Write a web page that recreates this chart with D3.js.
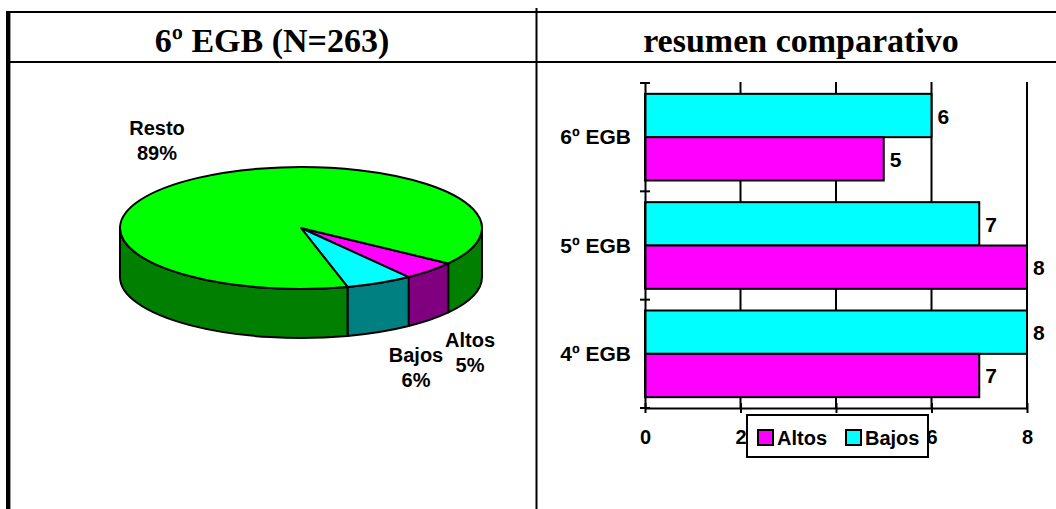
<!DOCTYPE html>
<html>
<head>
<meta charset="utf-8">
<script src="https://cdn.jsdelivr.net/npm/d3@7"></script>
<style>
  html, body { margin: 0; padding: 0; background: #fff; }
  svg { display: block; }
  .ttl { font-family: "Liberation Serif", "Times New Roman", serif; font-weight: bold; font-size: 34px; }
  .lbl { font-family: "Liberation Sans", Arial, sans-serif; font-weight: bold; font-size: 20px; }
  .cat { font-family: "Liberation Sans", Arial, sans-serif; font-weight: bold; font-size: 21px; }
  .tk { font-family: "Liberation Sans", Arial, sans-serif; font-weight: bold; font-size: 20px; }
</style>
</head>
<body>
<script>
// Pie: 6º EGB breakdown
const pieLabels = ["Altos", "Bajos", "Resto"];
const pieValues = [5, 6, 89];
const pieTopColors = ["#ff00ff", "#00ffff", "#00ff00"];
const pieSideColors = ["#800080", "#008080", "#007f00"];

// Bars: comparison by grade
const grades = ["6º EGB", "5º EGB", "4º EGB"];
const altos = [5, 8, 7];
const bajos = [6, 7, 8];
const seriesNames = ["Bajos", "Altos"];
const seriesColors = { Altos: "#ff00ff", Bajos: "#00ffff" };
const xTicks = [0, 2, 4, 6, 8];

const W = 1056, H = 509;
const svg = d3.select("body").append("svg").attr("width", W).attr("height", H);

// ---- table frame ----
const frame = svg.append("g").attr("stroke", "#000").attr("fill", "none");
frame.append("line").attr("x1", 6).attr("x2", W).attr("y1", 12).attr("y2", 12).attr("stroke-width", 2.2);
frame.append("line").attr("x1", 6).attr("x2", W).attr("y1", 62).attr("y2", 62).attr("stroke-width", 2.2);
frame.append("line").attr("x1", 8.2).attr("x2", 8.2).attr("y1", 11).attr("y2", H).attr("stroke-width", 4.4);
frame.append("line").attr("x1", 536.5).attr("x2", 536.5).attr("y1", 8).attr("y2", H).attr("stroke-width", 2);

svg.append("text").attr("class", "ttl").attr("x", 272).attr("y", 52).attr("text-anchor", "middle").text("6º EGB (N=263)");
svg.append("text").attr("class", "ttl").attr("x", 801).attr("y", 52).attr("text-anchor", "middle").text("resumen comparativo");

// ---- 3D pie ----
const cx = 301, cy = 228, rx = 181, ry = 61, depth = 49;
const startDeg = 125.5;
const pie = d3.pie().sort(null).value(d => d)
  .startAngle(startDeg * Math.PI / 180)
  .endAngle(startDeg * Math.PI / 180 + 2 * Math.PI);
const arcs = pie(pieValues);

function pt(a, dy) {
  return [cx + rx * Math.cos(a), cy + ry * Math.sin(a) + (dy || 0)];
}
function topPath(a0, a1) {
  const p0 = pt(a0), p1 = pt(a1);
  const large = (a1 - a0) > Math.PI ? 1 : 0;
  return `M${cx},${cy}L${p0[0]},${p0[1]}A${rx},${ry} 0 ${large} 1 ${p1[0]},${p1[1]}Z`;
}
function sidePath(s, e) {
  const p0 = pt(s), p1 = pt(e), q1 = pt(e, depth), q0 = pt(s, depth);
  return `M${p0[0]},${p0[1]}A${rx},${ry} 0 0 1 ${p1[0]},${p1[1]}L${q1[0]},${q1[1]}A${rx},${ry} 0 0 0 ${q0[0]},${q0[1]}Z`;
}

const pieG = svg.append("g").attr("stroke", "#000").attr("stroke-width", 2).attr("stroke-linejoin", "round");
arcs.forEach((d, i) => {
  const t0 = d.startAngle - Math.PI / 2, t1 = d.endAngle - Math.PI / 2;
  // front half of the rim lies at screen angles [0, π] (mod 2π)
  for (let k = 0; k <= 1; k++) {
    const s = Math.max(t0, k * 2 * Math.PI), e = Math.min(t1, k * 2 * Math.PI + Math.PI);
    if (e > s) pieG.append("path").attr("d", sidePath(s, e)).attr("fill", pieSideColors[i]);
  }
});
arcs.forEach((d, i) => {
  const t0 = d.startAngle - Math.PI / 2, t1 = d.endAngle - Math.PI / 2;
  pieG.append("path").attr("d", topPath(t0, t1)).attr("fill", pieTopColors[i]);
});

const pieLabelPos = { Resto: [157, 135], Bajos: [416, 362], Altos: [470, 347] };
pieLabels.forEach((name, i) => {
  const [x, y] = pieLabelPos[name];
  const t = svg.append("text").attr("class", "lbl").attr("text-anchor", "middle");
  t.append("tspan").attr("x", x).attr("y", y).text(name);
  t.append("tspan").attr("x", x).attr("y", y + 25).text(pieValues[i] + "%");
});

// ---- horizontal bar chart ----
const x = d3.scaleLinear().domain([0, 8]).range([645, 1027]);
const y0 = d3.scaleBand().domain(grades).range([83, 408]).padding(0);
const y1 = d3.scaleBand().domain(seriesNames).range([0, y0.bandwidth()]).paddingInner(0).paddingOuter(0.25);

const bc = svg.append("g");
// vertical gridlines
bc.append("g").selectAll("line").data(xTicks.filter(v => v > 0)).join("line")
  .attr("x1", d => x(d)).attr("x2", d => x(d)).attr("y1", 82).attr("y2", 408)
  .attr("stroke", "#000").attr("stroke-width", 2);

const rows = grades.map((g, i) => ({ g, Altos: altos[i], Bajos: bajos[i] }));
const grp = bc.append("g").selectAll("g").data(rows).join("g")
  .attr("transform", d => `translate(0,${y0(d.g)})`);
grp.selectAll("rect").data(d => seriesNames.map(s => ({ s, v: d[s] }))).join("rect")
  .attr("x", x(0)).attr("y", d => y1(d.s))
  .attr("width", d => x(d.v) - x(0)).attr("height", y1.bandwidth())
  .attr("fill", d => seriesColors[d.s]).attr("stroke", "#000").attr("stroke-width", 2);
grp.selectAll("text").data(d => seriesNames.map(s => ({ s, v: d[s] }))).join("text")
  .attr("class", "cat").attr("x", d => x(d.v) + 6).attr("y", d => y1(d.s) + y1.bandwidth() / 2 + 8)
  .text(d => d.v);

// y axis with crossing ticks
const yAxis = d3.axisLeft(y0).tickValues([]).tickSizeOuter(0);
const ya = bc.append("g").attr("transform", `translate(${x(0)},0)`).call(yAxis);
ya.select(".domain").attr("stroke-width", 2);
ya.selectAll(".bnd").data([...grades.map(g => y0(g)), 408]).join("line").attr("class", "bnd")
  .attr("x1", -5).attr("x2", 5).attr("y1", d => d).attr("y2", d => d).attr("stroke", "#000").attr("stroke-width", 2);
ya.selectAll(".cl").data(grades).join("text").attr("class", "cat cl")
  .attr("x", -14).attr("y", d => y0(d) + y0.bandwidth() / 2 + 7)
  .attr("text-anchor", "end").attr("fill", "#000").text(d => d);

// x axis with crossing ticks
const xAxis = d3.axisBottom(x).tickValues(xTicks).tickSizeOuter(0).tickSizeInner(5).tickFormat(d3.format("d"));
const xa = bc.append("g").attr("transform", "translate(0,408)").call(xAxis);
xa.select(".domain").attr("stroke-width", 2);
xa.selectAll(".tick line").attr("y1", -5).attr("y2", 5).attr("stroke-width", 2);
xa.selectAll(".tick text").attr("class", "tk").attr("y", 36).attr("dy", 0).attr("fill", "#000");

// legend
const lg = svg.append("g");
lg.append("rect").attr("x", 747).attr("y", 415).attr("width", 181).attr("height", 42)
  .attr("fill", "#fff").attr("stroke", "#000").attr("stroke-width", 2);
const legendItems = [{ s: "Altos", x: 758 }, { s: "Bajos", x: 846 }];
legendItems.forEach(it => {
  lg.append("rect").attr("x", it.x).attr("y", 430).attr("width", 15).attr("height", 15)
    .attr("fill", seriesColors[it.s]).attr("stroke", "#000").attr("stroke-width", 2);
  lg.append("text").attr("class", "tk").attr("x", it.x + 19).attr("y", 445).text(it.s);
});
</script>
</body>
</html>
